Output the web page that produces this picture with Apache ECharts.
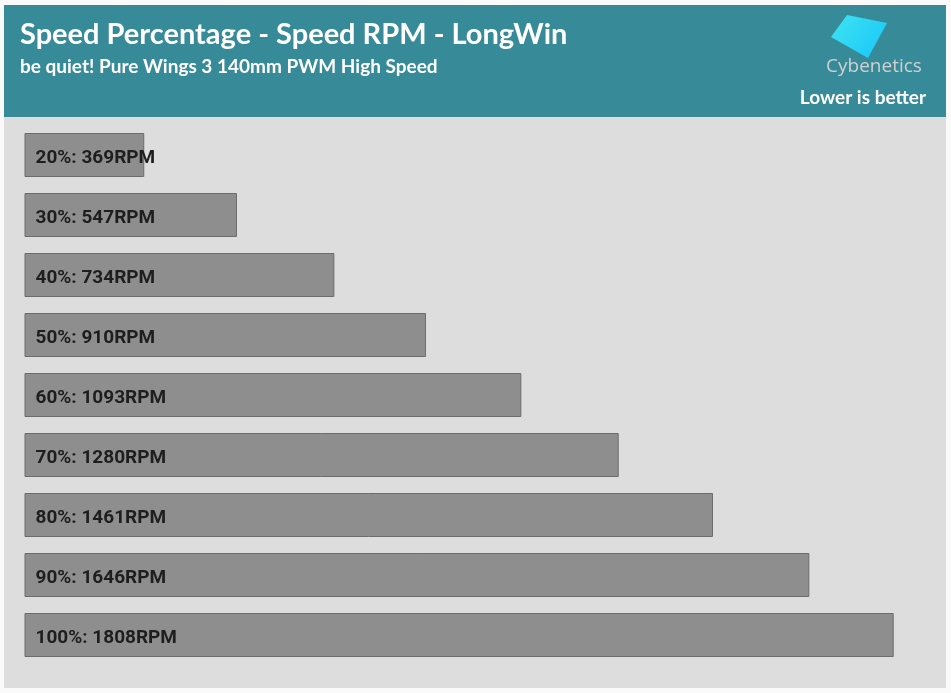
<!DOCTYPE html>
<html>
<head>
<meta charset="utf-8">
<script src="https://cdn.jsdelivr.net/npm/echarts@6/dist/echarts.min.js"></script>
<style>
html,body{margin:0;padding:0;background:#fafafa;}
#chart{width:951px;height:693px;}
</style>
</head>
<body>
<div id="chart"></div>
<script>
var categories = ['20%', '30%', '40%', '50%', '60%', '70%', '80%', '90%', '100%'];
var rpmValues = [369, 547, 734, 910, 1093, 1280, 1461, 1646, 1808];
var titleText = 'Speed Percentage - Speed RPM - LongWin';
var subtitleText = 'be quiet! Pure Wings 3 140mm PWM High Speed';
var noteText = 'Lower is better';
var logoText = 'Cybenetics';
var unit = 'RPM';

var chart = echarts.init(document.getElementById('chart'), null, {renderer: 'canvas'});
var option = {
  backgroundColor: '#fafafa',
  animation: false,
  title: {
    text: titleText,
    subtext: subtitleText,
    left: 15,
    top: 12,
    itemGap: 4,
    textStyle: {color: '#ffffff', fontFamily: 'Lato', fontWeight: 'bold', fontSize: 29, lineHeight: 35},
    subtextStyle: {color: '#ffffff', fontFamily: 'Lato', fontWeight: 'bold', fontSize: 19, lineHeight: 22}
  },
  graphic: [
    {type: 'rect', z: -10, shape: {x: 4, y: 5, width: 942, height: 683}, style: {fill: '#dddddd'}},
    {type: 'rect', z: -9, shape: {x: 4, y: 5, width: 942, height: 112}, style: {fill: '#378b99'}},
    {type: 'polygon', z: -8, shape: {points: [[847, 15], [887, 23], [868, 58], [831, 37]]},
      style: {fill: new echarts.graphic.LinearGradient(0, 0, 1, 1, [{offset: 0, color: '#3fe3ee'}, {offset: 1, color: '#17c6fb'}])}},
    {type: 'text', z: -8, style: {text: logoText, x: 874, y: 76, textAlign: 'center', textVerticalAlign: 'bottom', fill: '#d0d0d0', font: '19px "Open Sans"'}},
    {type: 'text', z: -8, style: {text: noteText, x: 926, y: 107, textAlign: 'right', textVerticalAlign: 'bottom', fill: '#ffffff', font: 'bold 19px Lato'}}
  ],
  grid: {left: 25, right: 25, top: 125, height: 540, containLabel: false},
  xAxis: {
    type: 'value', min: 140, max: 1870,
    axisLine: {show: false}, axisTick: {show: false}, axisLabel: {show: false}, splitLine: {show: false}
  },
  yAxis: {
    type: 'category', data: categories, inverse: true,
    axisLine: {show: false}, axisTick: {show: false}, axisLabel: {show: false}, splitLine: {show: false}
  },
  series: [{
    type: 'bar',
    data: rpmValues,
    barWidth: 44,
    itemStyle: {color: '#8e8e8e', borderColor: '#6c6c6c', borderWidth: 1},
    label: {
      show: true,
      position: 'insideLeft',
      distance: 11,
      offset: [0, 3],
      color: '#1e1e1e',
      fontFamily: 'Roboto',
      fontWeight: 'bold',
      fontSize: 19,
      formatter: function (p) { return categories[p.dataIndex] + ': ' + p.value + unit; }
    }
  }]
};
chart.setOption(option);
</script>
</body>
</html>
